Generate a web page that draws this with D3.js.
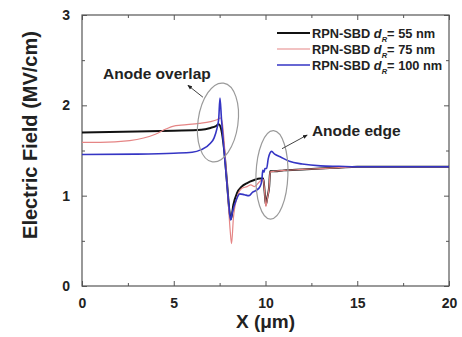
<!DOCTYPE html>
<html>
<head>
<meta charset="utf-8">
<script src="https://cdn.jsdelivr.net/npm/d3@7"></script>
<style>
  body { margin: 0; background: #fff; }
  text { font-family: "Liberation Sans", Arial, sans-serif; font-weight: bold; }
</style>
</head>
<body>
<div id="chart"></div>
<script>
// data
var seriesNames = ['55', '75', '100'];
var seriesColors = ['#111111', '#e58585', '#3535c4'];
var seriesWidths = [2, 1.2, 1.6];

var x55 = [0, 3, 5, 6.5, 7.0, 7.3, 7.45, 7.6, 7.75, 7.9, 8.05, 8.12, 8.25, 8.45, 8.7, 9.0, 9.35, 9.7, 9.88, 9.95, 10.02, 10.1, 10.2, 10.25, 10.5, 11, 12, 13, 14, 15, 20];
var e55 = [1.70, 1.71, 1.72, 1.73, 1.75, 1.77, 1.79, 1.72, 1.50, 1.15, 0.80, 0.74, 0.90, 1.03, 1.10, 1.14, 1.17, 1.19, 1.19, 1.05, 0.90, 0.98, 1.10, 1.27, 1.27, 1.28, 1.29, 1.30, 1.31, 1.32, 1.32];

var x75 = [0, 1, 2.6, 4.0, 4.6, 5.0, 5.4, 6.4, 7.0, 7.35, 7.55, 7.65, 7.8, 7.95, 8.08, 8.15, 8.25, 8.45, 8.7, 9.0, 9.2, 9.4, 9.7, 9.88, 9.95, 10.02, 10.1, 10.2, 10.25, 10.5, 11, 12, 13, 14, 15, 20];
var e75 = [1.59, 1.59, 1.61, 1.68, 1.74, 1.77, 1.78, 1.80, 1.82, 1.84, 1.86, 1.80, 1.45, 1.0, 0.6, 0.47, 0.75, 0.98, 1.08, 1.10, 1.12, 1.10, 1.16, 1.18, 1.05, 0.88, 0.97, 1.10, 1.26, 1.27, 1.28, 1.29, 1.30, 1.31, 1.32, 1.32];

var x100 = [0, 3, 5, 6, 6.5, 7.0, 7.2, 7.35, 7.45, 7.52, 7.6, 7.7, 7.85, 8.0, 8.1, 8.2, 8.4, 8.6, 8.85, 9.1, 9.3, 9.5, 9.7, 9.8, 9.85, 9.92, 9.97, 10.06, 10.15, 10.33, 10.5, 10.8, 11.3, 12, 13, 14, 15, 20];
var e100 = [1.455, 1.46, 1.47, 1.48, 1.51, 1.58, 1.64, 1.74, 1.85, 2.08, 1.85, 1.60, 1.25, 0.90, 0.73, 0.82, 0.95, 1.02, 1.01, 1.00, 1.04, 1.06, 1.10, 1.17, 1.28, 1.26, 1.30, 1.30, 1.41, 1.49, 1.46, 1.43, 1.38, 1.35, 1.33, 1.325, 1.32, 1.32];

var xTicks = [0, 5, 10, 15, 20];
var xMinor = [2.5, 7.5, 12.5, 17.5];
var yTicks = [0, 1, 2, 3];
var yMinor = [0.5, 1.5, 2.5];

var W = 462, H = 337;
var margin = { top: 15, right: 13, bottom: 51, left: 82 };
var width = W - margin.left - margin.right;
var height = H - margin.top - margin.bottom;

var svg = d3.select('#chart')
    .append('svg')
    .attr('width', W)
    .attr('height', H)
    .append('g')
    .attr('transform', 'translate(' + margin.left + ',' + margin.top + ')');

var x = d3.scaleLinear().domain([0, 20]).range([0, width]);
var y = d3.scaleLinear().domain([0, 3]).range([height, 0]);

// axes, ticks pointing inwards
function tickAxis(axis, vals, size) {
    return axis.tickValues(vals).tickSizeInner(size).tickSizeOuter(0).tickFormat('');
}
var frameColor = '#555';

svg.append('g').attr('transform', 'translate(0,' + height + ')')
    .call(d3.axisBottom(x).tickValues(xTicks).tickSizeInner(-5).tickSizeOuter(0).tickPadding(12).tickFormat(d3.format('d')));
svg.append('g').attr('transform', 'translate(0,' + height + ')').call(tickAxis(d3.axisBottom(x), xMinor, -3));
svg.append('g').call(tickAxis(d3.axisTop(x), xTicks, -5));
svg.append('g').call(tickAxis(d3.axisTop(x), xMinor, -3));

svg.append('g')
    .call(d3.axisLeft(y).tickValues(yTicks).tickSizeInner(-5).tickSizeOuter(0).tickPadding(12).tickFormat(d3.format('d')));
svg.append('g').call(tickAxis(d3.axisLeft(y), yMinor, -3));
svg.append('g').attr('transform', 'translate(' + width + ',0)').call(tickAxis(d3.axisRight(y), yTicks, -5));
svg.append('g').attr('transform', 'translate(' + width + ',0)').call(tickAxis(d3.axisRight(y), yMinor, -3));

svg.selectAll('.domain').remove();
svg.selectAll('.tick line').attr('stroke', frameColor);
svg.selectAll('.tick text').attr('font-size', 14).attr('fill', '#222');

svg.append('rect')
    .attr('width', width).attr('height', height)
    .attr('fill', 'none').attr('stroke', frameColor).attr('stroke-width', 1.2);

// curves
var series = [d3.zip(x55, e55), d3.zip(x75, e75), d3.zip(x100, e100)];
var line = d3.line()
    .x(function(d) { return x(d[0]); })
    .y(function(d) { return y(d[1]); })
    .curve(d3.curveMonotoneX);

svg.selectAll('path.curve')
    .data(series)
    .enter()
    .append('path')
    .attr('class', 'curve')
    .attr('fill', 'none')
    .attr('stroke', function(d, i) { return seriesColors[i]; })
    .attr('stroke-width', function(d, i) { return seriesWidths[i]; })
    .attr('d', line);

// annotations
var ellipses = [
    { cx: 7.41, cy: 1.81, rx: 1.09, ry: 0.44, rot: 8 },
    { cx: 10.35, cy: 1.23, rx: 0.87, ry: 0.49, rot: 2 }
];
ellipses.forEach(function(e) {
    svg.append('ellipse')
        .attr('cx', x(e.cx)).attr('cy', y(e.cy))
        .attr('rx', x(e.rx) - x(0)).attr('ry', y(0) - y(e.ry))
        .attr('transform', 'rotate(' + e.rot + ',' + x(e.cx) + ',' + y(e.cy) + ')')
        .attr('fill', 'none').attr('stroke', '#9a9a9a').attr('stroke-width', 1.2);
});

svg.append('defs').append('marker')
    .attr('id', 'head').attr('viewBox', '0 0 10 10')
    .attr('refX', 8).attr('refY', 5)
    .attr('markerWidth', 5).attr('markerHeight', 5)
    .attr('orient', 'auto')
    .append('path').attr('d', 'M0,1 L10,5 L0,9 Z').attr('fill', '#222');

var arrows = [[6.59, 2.09, 5.78, 2.22], [10.9, 1.52, 12.26, 1.67]];
arrows.forEach(function(a) {
    svg.append('line')
        .attr('x1', x(a[0])).attr('y1', y(a[1]))
        .attr('x2', x(a[2])).attr('y2', y(a[3]))
        .attr('stroke', '#444').attr('stroke-width', 1)
        .attr('marker-end', 'url(#head)');
});

svg.append('text').attr('x', x(1.15)).attr('y', y(2.29))
    .attr('font-size', 15.5).attr('fill', '#222').text('Anode overlap');
svg.append('text').attr('x', x(12.53)).attr('y', y(1.66))
    .attr('font-size', 15.5).attr('fill', '#222').text('Anode edge');

// legend
var legend = svg.append('g').attr('transform', 'translate(' + (277 - margin.left) + ',' + (33 - margin.top) + ')');
seriesNames.forEach(function(n, i) {
    var g = legend.append('g').attr('transform', 'translate(0,' + (i * 16) + ')');
    g.append('line').attr('x1', 0).attr('x2', 33)
        .attr('stroke', seriesColors[i]).attr('stroke-width', seriesWidths[i]);
    var t = g.append('text').attr('x', 35).attr('y', 5).attr('font-size', 12.8).attr('fill', '#222');
    t.append('tspan').text('RPN-SBD ');
    t.append('tspan').attr('font-style', 'italic').text('d');
    t.append('tspan').attr('font-style', 'italic').attr('font-size', 7.5).attr('dy', 4).text('R');
    t.append('tspan').attr('dy', -4).text('= ' + n + ' nm');
});

// axis titles
svg.append('text')
    .attr('x', width / 2).attr('y', height + 42)
    .attr('text-anchor', 'middle').attr('font-size', 19).attr('fill', '#222')
    .text('X (\u03bcm)');
svg.append('text')
    .attr('transform', 'translate(' + (-45) + ',' + (135 - margin.top) + ') rotate(-90)')
    .attr('text-anchor', 'middle').attr('font-size', 20).attr('fill', '#222')
    .text('Electric Field (MV/cm)');
</script>
</body>
</html>
